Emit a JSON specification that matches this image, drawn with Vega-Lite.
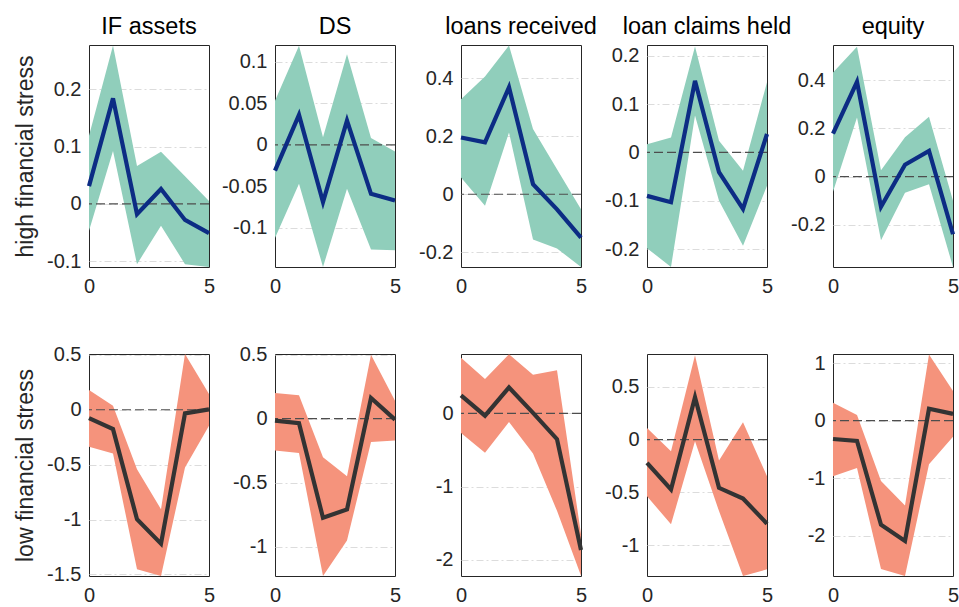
{
  "$schema": "https://vega.github.io/schema/vega-lite/v6.json",
  "padding": {"left": 14, "top": 14, "right": 3, "bottom": 0},
  "data": {
    "values": [
      {"p": "h1", "h": 0, "m": 0.031, "lo": -0.047, "hi": 0.119},
      {"p": "h1", "h": 1, "m": 0.184, "lo": 0.092, "hi": 0.276},
      {"p": "h1", "h": 2, "m": -0.018, "lo": -0.105, "hi": 0.066},
      {"p": "h1", "h": 3, "m": 0.026, "lo": -0.038, "hi": 0.091},
      {"p": "h1", "h": 4, "m": -0.028, "lo": -0.105, "hi": 0.048},
      {"p": "h1", "h": 5, "m": -0.051, "lo": -0.11, "hi": 0.005},
      {"p": "h2", "h": 0, "m": -0.031, "lo": -0.112, "hi": 0.053},
      {"p": "h2", "h": 1, "m": 0.036, "lo": -0.047, "hi": 0.119},
      {"p": "h2", "h": 2, "m": -0.069, "lo": -0.147, "hi": 0.009},
      {"p": "h2", "h": 3, "m": 0.029, "lo": -0.053, "hi": 0.109},
      {"p": "h2", "h": 4, "m": -0.059, "lo": -0.126, "hi": 0.008},
      {"p": "h2", "h": 5, "m": -0.067, "lo": -0.127, "hi": -0.008},
      {"p": "h3", "h": 0, "m": 0.196, "lo": 0.058, "hi": 0.328},
      {"p": "h3", "h": 1, "m": 0.179, "lo": -0.04, "hi": 0.406},
      {"p": "h3", "h": 2, "m": 0.369, "lo": 0.213, "hi": 0.513},
      {"p": "h3", "h": 3, "m": 0.035, "lo": -0.156, "hi": 0.225},
      {"p": "h3", "h": 4, "m": -0.052, "lo": -0.187, "hi": 0.086},
      {"p": "h3", "h": 5, "m": -0.15, "lo": -0.251, "hi": -0.052},
      {"p": "h4", "h": 0, "m": -0.09, "lo": -0.198, "hi": 0.017},
      {"p": "h4", "h": 1, "m": -0.103, "lo": -0.237, "hi": 0.031},
      {"p": "h4", "h": 2, "m": 0.148, "lo": 0.076, "hi": 0.219},
      {"p": "h4", "h": 3, "m": -0.041, "lo": -0.1, "hi": 0.024},
      {"p": "h4", "h": 4, "m": -0.117, "lo": -0.193, "hi": -0.038},
      {"p": "h4", "h": 5, "m": 0.038, "lo": -0.069, "hi": 0.145},
      {"p": "h5", "h": 0, "m": 0.179, "lo": -0.063, "hi": 0.433},
      {"p": "h5", "h": 1, "m": 0.394, "lo": 0.246, "hi": 0.54},
      {"p": "h5", "h": 2, "m": -0.126, "lo": -0.265, "hi": 0.026},
      {"p": "h5", "h": 3, "m": 0.049, "lo": -0.067, "hi": 0.163},
      {"p": "h5", "h": 4, "m": 0.107, "lo": -0.032, "hi": 0.249},
      {"p": "h5", "h": 5, "m": -0.24, "lo": -0.376, "hi": -0.101},
      {"p": "l1", "h": 0, "m": -0.076, "lo": -0.337, "hi": 0.179},
      {"p": "l1", "h": 1, "m": -0.176, "lo": -0.398, "hi": 0.036},
      {"p": "l1", "h": 2, "m": -0.997, "lo": -1.453, "hi": -0.541},
      {"p": "l1", "h": 3, "m": -1.219, "lo": -1.514, "hi": -0.906},
      {"p": "l1", "h": 4, "m": -0.033, "lo": -0.526, "hi": 0.508},
      {"p": "l1", "h": 5, "m": 0.003, "lo": -0.146, "hi": 0.143},
      {"p": "l2", "h": 0, "m": -0.016, "lo": -0.249, "hi": 0.2},
      {"p": "l2", "h": 1, "m": -0.036, "lo": -0.268, "hi": 0.182},
      {"p": "l2", "h": 2, "m": -0.774, "lo": -1.229, "hi": -0.301},
      {"p": "l2", "h": 3, "m": -0.709, "lo": -0.951, "hi": -0.449},
      {"p": "l2", "h": 4, "m": 0.161, "lo": -0.182, "hi": 0.499},
      {"p": "l2", "h": 5, "m": -0.008, "lo": -0.171, "hi": 0.14},
      {"p": "l3", "h": 0, "m": 0.245, "lo": -0.267, "hi": 0.76},
      {"p": "l3", "h": 1, "m": -0.032, "lo": -0.537, "hi": 0.468},
      {"p": "l3", "h": 2, "m": 0.354, "lo": -0.118, "hi": 0.805},
      {"p": "l3", "h": 3, "m": 0.007, "lo": -0.548, "hi": 0.527},
      {"p": "l3", "h": 4, "m": -0.352, "lo": -1.33, "hi": 0.589},
      {"p": "l3", "h": 5, "m": -1.865, "lo": -2.217, "hi": -1.65},
      {"p": "l4", "h": 0, "m": -0.221, "lo": -0.536, "hi": 0.11},
      {"p": "l4", "h": 1, "m": -0.473, "lo": -0.803, "hi": -0.11},
      {"p": "l4", "h": 2, "m": 0.4, "lo": -0.016, "hi": 0.797},
      {"p": "l4", "h": 3, "m": -0.457, "lo": -0.677, "hi": -0.198},
      {"p": "l4", "h": 4, "m": -0.558, "lo": -1.292, "hi": 0.164},
      {"p": "l4", "h": 5, "m": -0.797, "lo": -1.229, "hi": -0.347},
      {"p": "l5", "h": 0, "m": -0.32, "lo": -0.968, "hi": 0.308},
      {"p": "l5", "h": 1, "m": -0.354, "lo": -0.823, "hi": 0.099},
      {"p": "l5", "h": 2, "m": -1.81, "lo": -2.577, "hi": -1.05},
      {"p": "l5", "h": 3, "m": -2.09, "lo": -2.7, "hi": -1.473},
      {"p": "l5", "h": 4, "m": 0.205, "lo": -0.76, "hi": 1.148},
      {"p": "l5", "h": 5, "m": 0.116, "lo": -0.281, "hi": 0.516}
    ]
  },
  "columns": 5,
  "spacing": {"row": 87, "column": 66},
  "bounds": "flush",
  "concat": [
    {
      "width": 120, "height": 222, "title": "IF assets",
      "transform": [{"filter": "datum.p === 'h1'"}],
      "layer": [
        {"mark": {"type": "area", "color": "#90cebb", "opacity": 1},
         "encoding": {
           "x": {"field": "h", "type": "quantitative", "scale": {"domain": [0, 5]}, "axis": {"values": [0, 5]}, "title": null},
           "y": {"field": "lo", "type": "quantitative", "scale": {"domain": [-0.11, 0.277], "nice": false, "zero": false}, "axis": {"values": [-0.1, 0, 0.1, 0.2]}, "title": "high financial stress"},
           "y2": {"field": "hi"}}},
        {"data": {"values": [{}]}, "mark": {"type": "rule", "color": "#4d4d4d", "strokeDash": [9, 4], "strokeWidth": 1.2}, "encoding": {"y": {"datum": 0}}},
        {"mark": {"type": "line", "color": "#0c2c84", "strokeWidth": 4.2},
         "encoding": {"x": {"field": "h", "type": "quantitative"}, "y": {"field": "m", "type": "quantitative", "title": "high financial stress"}}}
      ]
    },
    {
      "width": 120, "height": 222, "title": "DS",
      "transform": [{"filter": "datum.p === 'h2'"}],
      "layer": [
        {"mark": {"type": "area", "color": "#90cebb", "opacity": 1},
         "encoding": {
           "x": {"field": "h", "type": "quantitative", "scale": {"domain": [0, 5]}, "axis": {"values": [0, 5]}, "title": null},
           "y": {"field": "lo", "type": "quantitative", "scale": {"domain": [-0.147, 0.12], "nice": false, "zero": false}, "axis": {"values": [-0.1, -0.05, 0, 0.05, 0.1]}, "title": null},
           "y2": {"field": "hi"}}},
        {"data": {"values": [{}]}, "mark": {"type": "rule", "color": "#4d4d4d", "strokeDash": [9, 4], "strokeWidth": 1.2}, "encoding": {"y": {"datum": 0}}},
        {"mark": {"type": "line", "color": "#0c2c84", "strokeWidth": 4.2},
         "encoding": {"x": {"field": "h", "type": "quantitative"}, "y": {"field": "m", "type": "quantitative", "title": null}}}
      ]
    },
    {
      "width": 120, "height": 222, "title": "loans received",
      "transform": [{"filter": "datum.p === 'h3'"}],
      "layer": [
        {"mark": {"type": "area", "color": "#90cebb", "opacity": 1},
         "encoding": {
           "x": {"field": "h", "type": "quantitative", "scale": {"domain": [0, 5]}, "axis": {"values": [0, 5]}, "title": null},
           "y": {"field": "lo", "type": "quantitative", "scale": {"domain": [-0.251, 0.515], "nice": false, "zero": false}, "axis": {"values": [-0.2, 0, 0.2, 0.4]}, "title": null},
           "y2": {"field": "hi"}}},
        {"data": {"values": [{}]}, "mark": {"type": "rule", "color": "#4d4d4d", "strokeDash": [9, 4], "strokeWidth": 1.2}, "encoding": {"y": {"datum": 0}}},
        {"mark": {"type": "line", "color": "#0c2c84", "strokeWidth": 4.2},
         "encoding": {"x": {"field": "h", "type": "quantitative"}, "y": {"field": "m", "type": "quantitative", "title": null}}}
      ]
    },
    {
      "width": 120, "height": 222, "title": "loan claims held",
      "transform": [{"filter": "datum.p === 'h4'"}],
      "layer": [
        {"mark": {"type": "area", "color": "#90cebb", "opacity": 1},
         "encoding": {
           "x": {"field": "h", "type": "quantitative", "scale": {"domain": [0, 5]}, "axis": {"values": [0, 5]}, "title": null},
           "y": {"field": "lo", "type": "quantitative", "scale": {"domain": [-0.237, 0.222], "nice": false, "zero": false}, "axis": {"values": [-0.2, -0.1, 0, 0.1, 0.2]}, "title": null},
           "y2": {"field": "hi"}}},
        {"data": {"values": [{}]}, "mark": {"type": "rule", "color": "#4d4d4d", "strokeDash": [9, 4], "strokeWidth": 1.2}, "encoding": {"y": {"datum": 0}}},
        {"mark": {"type": "line", "color": "#0c2c84", "strokeWidth": 4.2},
         "encoding": {"x": {"field": "h", "type": "quantitative"}, "y": {"field": "m", "type": "quantitative", "title": null}}}
      ]
    },
    {
      "width": 120, "height": 222, "title": "equity",
      "transform": [{"filter": "datum.p === 'h5'"}],
      "layer": [
        {"mark": {"type": "area", "color": "#90cebb", "opacity": 1},
         "encoding": {
           "x": {"field": "h", "type": "quantitative", "scale": {"domain": [0, 5]}, "axis": {"values": [0, 5]}, "title": null},
           "y": {"field": "lo", "type": "quantitative", "scale": {"domain": [-0.376, 0.547], "nice": false, "zero": false}, "axis": {"values": [-0.2, 0, 0.2, 0.4]}, "title": null},
           "y2": {"field": "hi"}}},
        {"data": {"values": [{}]}, "mark": {"type": "rule", "color": "#4d4d4d", "strokeDash": [9, 4], "strokeWidth": 1.2}, "encoding": {"y": {"datum": 0}}},
        {"mark": {"type": "line", "color": "#0c2c84", "strokeWidth": 4.2},
         "encoding": {"x": {"field": "h", "type": "quantitative"}, "y": {"field": "m", "type": "quantitative", "title": null}}}
      ]
    },
    {
      "width": 120, "height": 222,
      "transform": [{"filter": "datum.p === 'l1'"}],
      "layer": [
        {"mark": {"type": "area", "color": "#f5937c", "opacity": 1},
         "encoding": {
           "x": {"field": "h", "type": "quantitative", "scale": {"domain": [0, 5]}, "axis": {"values": [0, 5]}, "title": null},
           "y": {"field": "lo", "type": "quantitative", "scale": {"domain": [-1.514, 0.508], "nice": false, "zero": false}, "axis": {"values": [-1.5, -1, -0.5, 0, 0.5]}, "title": "low financial stress"},
           "y2": {"field": "hi"}}},
        {"data": {"values": [{}]}, "mark": {"type": "rule", "color": "#4d4d4d", "strokeDash": [9, 4], "strokeWidth": 1.2}, "encoding": {"y": {"datum": 0}}},
        {"mark": {"type": "line", "color": "#333333", "strokeWidth": 4.2},
         "encoding": {"x": {"field": "h", "type": "quantitative"}, "y": {"field": "m", "type": "quantitative", "title": "low financial stress"}}}
      ]
    },
    {
      "width": 120, "height": 222,
      "transform": [{"filter": "datum.p === 'l2'"}],
      "layer": [
        {"mark": {"type": "area", "color": "#f5937c", "opacity": 1},
         "encoding": {
           "x": {"field": "h", "type": "quantitative", "scale": {"domain": [0, 5]}, "axis": {"values": [0, 5]}, "title": null},
           "y": {"field": "lo", "type": "quantitative", "scale": {"domain": [-1.229, 0.505], "nice": false, "zero": false}, "axis": {"values": [-1, -0.5, 0, 0.5]}, "title": null},
           "y2": {"field": "hi"}}},
        {"data": {"values": [{}]}, "mark": {"type": "rule", "color": "#4d4d4d", "strokeDash": [9, 4], "strokeWidth": 1.2}, "encoding": {"y": {"datum": 0}}},
        {"mark": {"type": "line", "color": "#333333", "strokeWidth": 4.2},
         "encoding": {"x": {"field": "h", "type": "quantitative"}, "y": {"field": "m", "type": "quantitative", "title": null}}}
      ]
    },
    {
      "width": 120, "height": 222,
      "transform": [{"filter": "datum.p === 'l3'"}],
      "layer": [
        {"mark": {"type": "area", "color": "#f5937c", "opacity": 1},
         "encoding": {
           "x": {"field": "h", "type": "quantitative", "scale": {"domain": [0, 5]}, "axis": {"values": [0, 5]}, "title": null},
           "y": {"field": "lo", "type": "quantitative", "scale": {"domain": [-2.22, 0.81], "nice": false, "zero": false}, "axis": {"values": [-2, -1, 0]}, "title": null},
           "y2": {"field": "hi"}}},
        {"data": {"values": [{}]}, "mark": {"type": "rule", "color": "#4d4d4d", "strokeDash": [9, 4], "strokeWidth": 1.2}, "encoding": {"y": {"datum": 0}}},
        {"mark": {"type": "line", "color": "#333333", "strokeWidth": 4.2},
         "encoding": {"x": {"field": "h", "type": "quantitative"}, "y": {"field": "m", "type": "quantitative", "title": null}}}
      ]
    },
    {
      "width": 120, "height": 222,
      "transform": [{"filter": "datum.p === 'l4'"}],
      "layer": [
        {"mark": {"type": "area", "color": "#f5937c", "opacity": 1},
         "encoding": {
           "x": {"field": "h", "type": "quantitative", "scale": {"domain": [0, 5]}, "axis": {"values": [0, 5]}, "title": null},
           "y": {"field": "lo", "type": "quantitative", "scale": {"domain": [-1.292, 0.81], "nice": false, "zero": false}, "axis": {"values": [-1, -0.5, 0, 0.5]}, "title": null},
           "y2": {"field": "hi"}}},
        {"data": {"values": [{}]}, "mark": {"type": "rule", "color": "#4d4d4d", "strokeDash": [9, 4], "strokeWidth": 1.2}, "encoding": {"y": {"datum": 0}}},
        {"mark": {"type": "line", "color": "#333333", "strokeWidth": 4.2},
         "encoding": {"x": {"field": "h", "type": "quantitative"}, "y": {"field": "m", "type": "quantitative", "title": null}}}
      ]
    },
    {
      "width": 120, "height": 222,
      "transform": [{"filter": "datum.p === 'l5'"}],
      "layer": [
        {"mark": {"type": "area", "color": "#f5937c", "opacity": 1},
         "encoding": {
           "x": {"field": "h", "type": "quantitative", "scale": {"domain": [0, 5]}, "axis": {"values": [0, 5]}, "title": null},
           "y": {"field": "lo", "type": "quantitative", "scale": {"domain": [-2.7, 1.157], "nice": false, "zero": false}, "axis": {"values": [-2, -1, 0, 1]}, "title": null},
           "y2": {"field": "hi"}}},
        {"data": {"values": [{}]}, "mark": {"type": "rule", "color": "#4d4d4d", "strokeDash": [9, 4], "strokeWidth": 1.2}, "encoding": {"y": {"datum": 0}}},
        {"mark": {"type": "line", "color": "#333333", "strokeWidth": 4.2},
         "encoding": {"x": {"field": "h", "type": "quantitative"}, "y": {"field": "m", "type": "quantitative", "title": null}}}
      ]
    }
  ],
  "config": {
    "font": "Liberation Sans",
    "view": {"stroke": "#262626", "strokeWidth": 1},
    "axis": {
      "domain": false,
      "ticks": false,
      "labelFontSize": 20,
      "labelColor": "#262626",
      "labelOverlap": false,
      "titleFontSize": 23,
      "titleFontWeight": "normal",
      "titleColor": "#262626"
    },
    "axisY": {
      "grid": true,
      "gridColor": "#dcdcdc",
      "gridDash": [7, 3, 2, 3],
      "labelPadding": 8,
      "titlePadding": 9,
      "labelExpr": "'' + datum.value"
    },
    "axisX": {"grid": false, "labelPadding": 9, "labelFlush": false},
    "title": {"fontSize": 23.5, "fontWeight": "normal", "color": "#000000", "offset": 7}
  }
}
